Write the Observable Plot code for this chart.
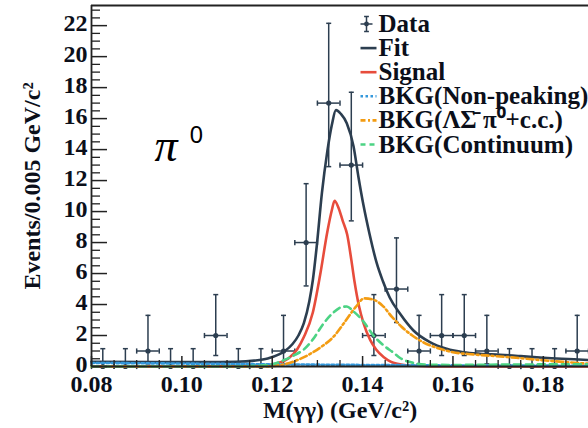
<!DOCTYPE html>
<html><head><meta charset="utf-8">
<script src="https://cdn.jsdelivr.net/npm/d3@7"></script>
<script src="https://cdn.jsdelivr.net/npm/@observablehq/plot@0.6"></script>
<style>
html,body{margin:0;padding:0;background:#fff;}
#chart{width:588px;height:428px;overflow:hidden;}
</style></head><body><div id="chart"></div>
<script>
// ---- data ----
const binCenters = [0.0825,0.0875,0.0925,0.0975,0.1025,0.1075,0.1125,0.1175,0.1225,0.1275,0.1325,0.1375,0.1425,0.1475,0.1525,0.1575,0.1625,0.1675,0.1725,0.1775,0.1825,0.1875];
const counts     = [0,0,1,0,0,2,0,0,1,8,17,13,2,5,1,2,2,1,0,0,0,1];
const errLow     = [0,0,0.17,0,0,0.71,0,0,0.17,5.2,12.9,9.4,0.71,2.84,0.17,0.71,0.71,0.17,0,0,0,0.17];
const errHigh    = [1.15,1.15,3.3,1.15,1.15,4.64,1.15,1.15,3.3,11.8,22.15,17.7,4.64,8.3,3.3,4.64,4.64,3.3,1.15,1.15,1.15,3.3];
const binHalfWidth = 0.0025;

const fitCurve = [[0.080,0.31],[0.095,0.29],[0.105,0.29],[0.112,0.31],[0.116,0.38],[0.119,0.52],[0.1215,0.78],[0.1228,1.0],[0.1245,1.45],[0.1258,2.0],[0.127,2.8],[0.1282,4.2],[0.129,5.6],[0.1299,7.9],[0.131,11.2],[0.1322,13.9],[0.1332,15.6],[0.1341,16.55],[0.1352,16.3],[0.1365,15.7],[0.138,14.2],[0.1391,12.2],[0.1402,10.4],[0.1415,8.6],[0.1431,6.7],[0.1445,5.5],[0.146,4.45],[0.1483,3.4],[0.1512,2.34],[0.1549,1.57],[0.1586,1.14],[0.1623,0.92],[0.166,0.82],[0.1704,0.76],[0.175,0.67],[0.18,0.56],[0.19,0.42]];
const signalCurve = [[0.080,0],[0.110,0.01],[0.118,0.05],[0.121,0.2],[0.1235,0.5],[0.1255,1.1],[0.127,1.9],[0.129,3.5],[0.1306,5.9],[0.1322,8.7],[0.1332,10.1],[0.1338,10.7],[0.1346,10.3],[0.1356,9.4],[0.1366,8.5],[0.1375,6.9],[0.1382,5.5],[0.1392,3.9],[0.1402,2.8],[0.1417,1.7],[0.143,1.1],[0.1447,0.6],[0.1462,0.32],[0.1477,0.17],[0.150,0.06],[0.155,0.01],[0.19,0]];
const nonPeakingCurve = [[0.080,0.23],[0.100,0.19],[0.120,0.14],[0.140,0.1],[0.160,0.07],[0.190,0.05]];
const lambdaSigmaCurve = [[0.080,0],[0.118,0],[0.122,0.1],[0.125,0.35],[0.128,0.75],[0.131,1.3],[0.1335,1.9],[0.136,2.85],[0.1385,3.85],[0.1404,4.4],[0.1425,4.3],[0.1445,3.9],[0.1465,3.2],[0.1485,2.6],[0.151,2.0],[0.1535,1.55],[0.1565,1.2],[0.16,0.92],[0.1645,0.78],[0.169,0.68],[0.174,0.56],[0.18,0.4],[0.19,0.18]];
const continuumCurve = [[0.080,0],[0.110,0],[0.117,0.05],[0.120,0.15],[0.1225,0.4],[0.125,0.75],[0.127,1.1],[0.129,1.75],[0.1313,2.75],[0.1336,3.5],[0.1355,3.85],[0.1365,3.87],[0.138,3.55],[0.1402,2.9],[0.1424,2.0],[0.1447,1.35],[0.1468,0.9],[0.1483,0.55],[0.151,0.25],[0.154,0.12],[0.16,0.1],[0.17,0.12],[0.19,0.15]];

const xMajorTicks = [0.08,0.10,0.12,0.14,0.16,0.18];
const yMajorTicks = [0,2,4,6,8,10,12,14,16,18,20,22];
const legendLabels = ["Data","Fit","Signal","BKG(Non-peaking)","BKG(ΛΣ\u0304 π\u2070+c.c.)","BKG(Continuum)"];
const xLabel = "M(γγ) (GeV/c²)";
const yLabel = "Events/0.005 GeV/c²";

// ---- styling ----
const W = 588, H = 428, mL = 91, mR = 0, mT = 5, mB = 62;
const plotW = W - mL - mR, plotH = H - mT - mB;
const ink = "#2c3e50", txt = "#0b0f1a";
const cRed = "#e74c3c", cBlue = "#3498db", cOrange = "#f39c12", cGreen = "#4cd384";
const Y_TOP = 23.3;

const bins = binCenters.map((x, i) => ({x, n: counts[i], lo: errLow[i], hi: errHigh[i]}));
const xMinor = d3.range(0.085, 0.19, 0.005).filter(v => Math.abs(Math.round(v / 0.02) * 0.02 - v) > 1e-6);
const yMinor = d3.range(0.5, Y_TOP, 0.5).filter(v => Math.abs(v % 2) > 1e-6);

const hcap = {draw(c){ c.moveTo(-2.5,0); c.lineTo(2.5,0); }};
const vcap = {draw(c){ c.moveTo(0,-2.6); c.lineTo(0,2.6); }};
const legLine = {draw(c){ c.moveTo(-8,0); c.lineTo(8,0); }};
const legData = {draw(c){
  c.moveTo(-6,0); c.lineTo(6,0);
  c.moveTo(0,-7.5); c.lineTo(0,7.5);
  c.moveTo(-2.4,-7.5); c.lineTo(2.4,-7.5);
  c.moveTo(-2.4,7.5); c.lineTo(2.4,7.5);
}};

const curveOpts = (stroke, dash) => ({x: d => d[0], y: d => d[1], curve: "monotone-x", stroke, strokeWidth: 2.6, strokeDasharray: dash});

const legendStyles = [
  null,
  {stroke: ink, dash: null},
  {stroke: cRed, dash: null},
  {stroke: cBlue, dash: "2.5,2.5"},
  {stroke: cOrange, dash: "5,2.5,2,2.5"},
  {stroke: cGreen, dash: "5,4"}
];
const rowY = i => 23.5 + i * 24.1;

const legendMarks = [];
legendLabels.forEach((lab, i) => {
  legendMarks.push(Plot.text([lab], {frameAnchor: "top-left", dx: 287, dy: rowY(i) - mT, text: d => d, textAnchor: "start", lineAnchor: "middle", fontSize: 25, fill: txt}));
  if (i === 0) {
    legendMarks.push(Plot.dot([0], {frameAnchor: "top-left", dx: 275, dy: rowY(i) - mT, symbol: legData, fill: "none", stroke: ink, strokeWidth: 1.5}));
    legendMarks.push(Plot.dot([0], {frameAnchor: "top-left", dx: 275, dy: rowY(i) - mT, r: 2.4, fill: ink, stroke: "none"}));
  } else {
    const s = legendStyles[i];
    legendMarks.push(Plot.dot([0], {frameAnchor: "top-left", dx: 277, dy: rowY(i) - mT, symbol: legLine, fill: "none", stroke: s.stroke, strokeWidth: 2.6, strokeDasharray: s.dash}));
  }
});

const chart = Plot.plot({
  width: W, height: H,
  marginLeft: mL, marginRight: mR, marginTop: mT, marginBottom: mB,
  x: {domain: [0.08, 0.19], axis: null},
  y: {domain: [0, Y_TOP], axis: null},
  style: {fontFamily: "'Liberation Serif','Times New Roman',serif", fontWeight: "bold", color: txt, background: "#fff"},
  marks: [
    // data error bars
    Plot.ruleX(bins, {x: "x", y1: "lo", y2: "hi", stroke: ink, strokeWidth: 1.5}),
    Plot.ruleY(bins, {y: "n", x1: d => d.x - binHalfWidth, x2: d => d.x + binHalfWidth, stroke: ink, strokeWidth: 1.5}),
    Plot.dot(bins, {x: "x", y: "hi", symbol: hcap, fill: "none", stroke: ink, strokeWidth: 1.5}),
    Plot.dot(bins.filter(d => d.n > 0), {x: "x", y: "lo", symbol: hcap, fill: "none", stroke: ink, strokeWidth: 1.5}),
    Plot.dot(bins, {x: d => d.x - binHalfWidth, y: "n", symbol: vcap, fill: "none", stroke: ink, strokeWidth: 1.5}),
    Plot.dot(bins, {x: d => d.x + binHalfWidth, y: "n", symbol: vcap, fill: "none", stroke: ink, strokeWidth: 1.5}),
    Plot.dot(bins, {x: "x", y: "n", r: 2.6, fill: ink, stroke: "none"}),
    // curves
    Plot.line(fitCurve, curveOpts(ink, null)),
    Plot.line(signalCurve, curveOpts(cRed, null)),
    Plot.line(nonPeakingCurve, curveOpts(cBlue, "2.5,2.5")),
    Plot.line(lambdaSigmaCurve, curveOpts(cOrange, "7,3,2,3")),
    Plot.line(continuumCurve, curveOpts(cGreen, "7,5")),
    // frame
    Plot.ruleY([Y_TOP], {stroke: "#222", strokeWidth: 2}),
    Plot.ruleX([0.08], {stroke: "#222", strokeWidth: 1.8}),
    Plot.ruleY([0], {stroke: "#222", strokeWidth: 1.8}),
    // inward ticks
    Plot.tickY(yMajorTicks, {y: d => d, insetRight: plotW - 16, stroke: "#222", strokeWidth: 1.5}),
    Plot.tickY(yMinor, {y: d => d, insetRight: plotW - 9, stroke: "#222", strokeWidth: 1.3}),
    Plot.tickX(xMajorTicks, {x: d => d, insetTop: plotH - 10, stroke: "#222", strokeWidth: 1.5}),
    Plot.tickX(xMinor, {x: d => d, insetTop: plotH - 6, stroke: "#222", strokeWidth: 1.3}),
    // axis labels
    Plot.axisX(xMajorTicks, {tickSize: 0, tickPadding: 8, fontSize: 24, tickFormat: d => d.toFixed(2), label: null, fill: txt}),
    Plot.axisY(yMajorTicks, {tickSize: 0, tickPadding: 4, dy: -2, fontSize: 24, tickFormat: d => String(d), label: null, fill: txt}),
    Plot.text([xLabel], {frameAnchor: "bottom", dy: 44, text: d => d, fontSize: 24, textAnchor: "middle", lineAnchor: "middle", fill: txt}),
    Plot.text([yLabel], {frameAnchor: "left", dx: -59, rotate: -90, text: d => d, fontSize: 24, textAnchor: "middle", lineAnchor: "middle", fill: txt}),
    // pi0 label
    Plot.text(["π"], {frameAnchor: "top-left", dx: 63, dy: 141, text: d => d, fontSize: 46, fontStyle: "italic", fontWeight: "normal", textAnchor: "start", lineAnchor: "middle", fill: "#000"}),
    Plot.text(["0"], {frameAnchor: "top-left", dx: 98, dy: 130, text: d => d, fontSize: 24, fontWeight: "normal", fontFamily: "'Noto Sans', sans-serif", textAnchor: "start", lineAnchor: "middle", fill: "#000"}),
    ...legendMarks
  ]
});
document.getElementById("chart").appendChild(chart);
</script>
</body></html>
